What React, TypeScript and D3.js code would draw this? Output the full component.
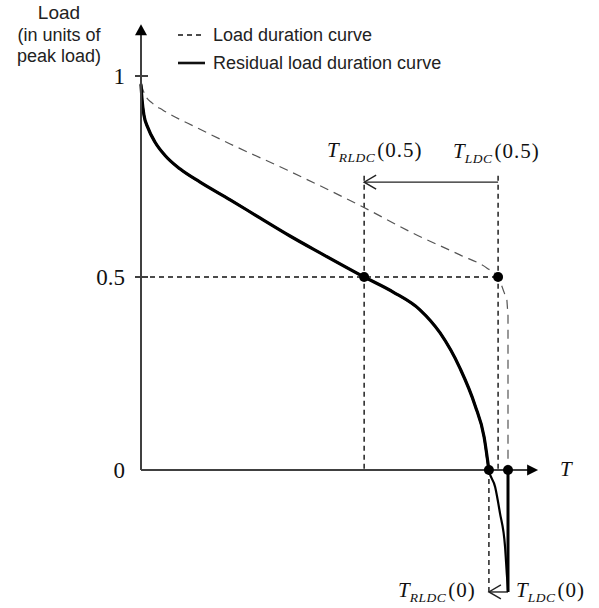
import React from "react";
import * as d3 from "d3";

// Load duration curve (T as share of the period, load in units of peak load)
const ldcT = [0, 0.011, 0.03, 0.06, 0.153, 0.243, 0.398, 0.605, 0.741, 0.869, 0.943, 0.973, 0.986, 0.997];
const ldcLoad = [0.98, 0.953, 0.933, 0.915, 0.871, 0.831, 0.766, 0.674, 0.609, 0.555, 0.522, 0.5, 0.469, 0.44];
// Final drop of the load duration curve at the end of the period
const ldcTailT = [0.997, 1.0, 1.0];
const ldcTailLoad = [0.44, 0.4, 0];

// Residual load duration curve
const rldcT = [0, 0.003, 0.008, 0.019, 0.038, 0.065, 0.106, 0.161, 0.243, 0.324, 0.406, 0.488, 0.608, 0.687, 0.76, 0.815, 0.869, 0.91, 0.935, 0.948, 0.965, 0.978, 0.992, 0.997, 1.0];
const rldcLoad = [0.978, 0.94, 0.903, 0.871, 0.836, 0.803, 0.769, 0.736, 0.692, 0.647, 0.602, 0.56, 0.5, 0.461, 0.415, 0.355, 0.264, 0.168, 0.085, 0, -0.044, -0.111, -0.199, -0.272, -0.311];

// Marked durations
const tRldcHalf = 0.608;
const tLdcHalf = 0.973;
const tRldcZero = 0.948;
const tLdcZero = 1.0;
const shiftArrowLoad = 0.736;
const guideTopLoad = 0.752;
const bottomArrowLoad = -0.316;

const yTicks = [
  { v: 1, label: "1", tick: true },
  { v: 0.5, label: "0.5", tick: true },
  { v: 0, label: "0", tick: false },
];

const legendItems = [
  { label: "Load duration curve", dashed: true },
  { label: "Residual load duration curve", dashed: false },
];

const W = 599;
const H = 608;

export default function App() {
  const x = d3.scaleLinear().domain([0, 1]).range([141, 508]);
  const y = d3.scaleLinear().domain([0, 0.5, 1]).range([470, 277, 76]);

  const zip = (a: number[], b: number[]) => a.map((t, i) => [t, b[i]] as [number, number]);
  const ldc = zip(ldcT, ldcLoad);
  const ldcTail = zip(ldcTailT, ldcTailLoad);
  const rldc = zip(rldcT, rldcLoad);

  const smooth = d3
    .line<[number, number]>()
    .x((d) => x(d[0]))
    .y((d) => y(d[1]))
    .curve(d3.curveMonotoneX);
  const straight = d3
    .line<[number, number]>()
    .x((d) => x(d[0]))
    .y((d) => y(d[1]));

  const x0 = x(0);
  const y0 = y(0);
  const xEnd = x(1.082);
  const yTop = y(1.129);

  const serif = "'Liberation Serif', 'Times New Roman', serif";
  const sans = "'Liberation Sans', Arial, sans-serif";
  const axisColor = "#404040";
  const guide = { stroke: "#111", strokeWidth: 1.4, strokeDasharray: "5,4", fill: "none" };

  const openHead = (tipX: number, tipY: number) =>
    `M${tipX + 12},${tipY - 7} L${tipX},${tipY} L${tipX + 12},${tipY + 7}`;

  const tLabel = (px: number, py: number, sub: string, arg: string) => (
    <text x={px} y={py} fontFamily={serif} fontSize={21} fill="#111">
      <tspan fontStyle="italic">T</tspan>
      <tspan fontStyle="italic" fontSize={13.5} dy={5} letterSpacing={0.5}>
        {sub}
      </tspan>
      <tspan dy={-5} dx={2} letterSpacing={1}>
        {arg}
      </tspan>
    </text>
  );

  const ldcPath = (smooth(ldc) ?? "") + (straight(ldcTail) ?? "").replace(/^M/, "L");

  return (
    <svg
      width={W}
      height={H}
      viewBox={`0 0 ${W} ${H}`}
      style={{ position: "absolute", left: 0, top: 0, background: "#fff" }}
    >
      {/* y-axis title */}
      <g fontFamily={sans} fontSize={18} fill="#222" textAnchor="middle">
        <text x={59} y={19} fontSize={19}>Load</text>
        <text x={59} y={41}>(in units of</text>
        <text x={59} y={62}>peak load)</text>
      </g>

      {/* legend */}
      <g fontFamily={sans} fontSize={18} fill="#222">
        {legendItems.map((it, i) => {
          const ly = 35 + i * 28;
          return (
            <g key={it.label}>
              <line
                x1={178}
                x2={it.dashed ? 202 : 205}
                y1={ly}
                y2={ly}
                stroke="#111"
                strokeWidth={it.dashed ? 1.3 : 2.6}
                strokeDasharray={it.dashed ? "5,4" : undefined}
              />
              <text x={213} y={ly + 6}>{it.label}</text>
            </g>
          );
        })}
      </g>

      {/* guide lines */}
      <line x1={x0} x2={x(tLdcHalf)} y1={y(0.5)} y2={y(0.5)} {...guide} />
      <line x1={x(tRldcHalf)} x2={x(tRldcHalf)} y1={y(guideTopLoad)} y2={y0} {...guide} />
      <line x1={x(tLdcHalf)} x2={x(tLdcHalf)} y1={y(guideTopLoad)} y2={y0} {...guide} />
      <line x1={x(tRldcZero)} x2={x(tRldcZero)} y1={y0} y2={y(bottomArrowLoad)} {...guide} />

      {/* shift arrows */}
      <g stroke="#222" strokeWidth={1.4} fill="none">
        <line x1={x(tLdcHalf)} x2={x(tRldcHalf)} y1={y(shiftArrowLoad)} y2={y(shiftArrowLoad)} />
        <path d={openHead(x(tRldcHalf), y(shiftArrowLoad))} />
        <line x1={x(tLdcZero)} x2={x(tRldcZero)} y1={y(bottomArrowLoad)} y2={y(bottomArrowLoad)} />
        <path d={openHead(x(tRldcZero), y(bottomArrowLoad))} />
      </g>

      {/* load duration curve */}
      <path d={ldcPath} fill="none" stroke="#555" strokeWidth={1.2} strokeDasharray="9,6" />

      {/* residual load duration curve */}
      <path d={smooth(rldc) ?? ""} fill="none" stroke="#000" strokeWidth={2.2} />
      <path
        d={smooth(rldc.filter((d) => d[1] >= 0)) ?? ""}
        fill="none"
        stroke="#000"
        strokeWidth={3.2}
        strokeLinecap="round"
      />
      <line
        x1={x(tLdcZero)}
        x2={x(tLdcZero)}
        y1={y0}
        y2={y(bottomArrowLoad)}
        stroke="#000"
        strokeWidth={3}
      />

      {/* axes */}
      <g stroke={axisColor} strokeWidth={2} fill="none">
        <line x1={x0} x2={x0} y1={y0} y2={yTop + 8} />
        <line x1={x0} x2={xEnd - 8} y1={y0} y2={y0} />
        {yTicks
          .filter((t) => t.tick)
          .map((t) => (
            <line key={t.label} x1={x0 - 6} x2={x0 + 7} y1={y(t.v)} y2={y(t.v)} />
          ))}
      </g>
      <path d={`M${x0},${yTop} L${x0 - 6},${yTop + 11} L${x0 + 6},${yTop + 11} Z`} fill="#000" />
      <path d={`M${xEnd},${y0} L${xEnd - 11},${y0 - 5.5} L${xEnd - 11},${y0 + 5.5} Z`} fill="#000" />

      {/* y tick labels */}
      <g fontFamily={serif} fontSize={23} fill="#111" textAnchor="end">
        {yTicks.map((t) => (
          <text key={t.label} x={125} y={y(t.v) + 8}>
            {t.label}
          </text>
        ))}
      </g>
      <text x={560} y={476} fontFamily={serif} fontSize={21} fontStyle="italic" fill="#111">
        T
      </text>

      {/* marked points */}
      <g fill="#000">
        <circle cx={x(tRldcHalf)} cy={y(0.5)} r={5} />
        <circle cx={x(tLdcHalf)} cy={y(0.5)} r={5} />
        <circle cx={x(tRldcZero)} cy={y0} r={5} />
        <circle cx={x(tLdcZero)} cy={y0} r={5} />
      </g>

      {/* duration labels */}
      {tLabel(327, 157, "RLDC", "(0.5)")}
      {tLabel(453, 158, "LDC", "(0.5)")}
      {tLabel(398, 597, "RLDC", "(0)")}
      {tLabel(516, 597, "LDC", "(0)")}
    </svg>
  );
}
